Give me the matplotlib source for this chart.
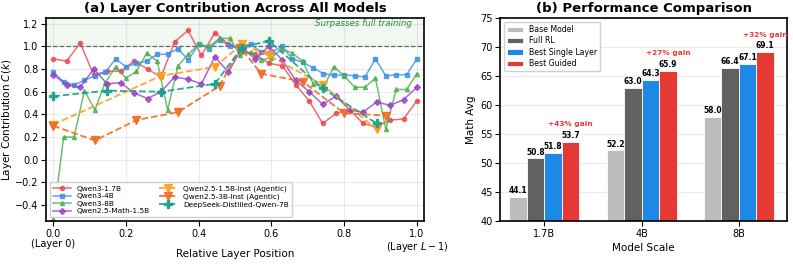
import numpy as np
import matplotlib.pyplot as plt

# ---- panel (a): layer contribution per model ----
qwen3_17b = [0.89, 0.87, 1.03, 0.75, 0.78, 0.78, 0.87, 0.80, 0.73, 1.04, 1.14, 0.92, 1.12, 1.02,
             0.96, 0.93, 0.85, 0.83, 0.66, 0.52, 0.32, 0.41, 0.44, 0.32, 0.29, 0.35, 0.36, 0.52]
qwen3_4b = [0.77, 0.69, 0.66, 0.70, 0.74, 0.77, 0.89, 0.82, 0.85, 0.87, 0.93, 0.93, 0.98, 0.88,
            1.02, 0.98, 1.06, 1.00, 1.00, 1.02, 0.95, 0.95, 1.00, 0.89, 0.86, 0.81, 0.76, 0.745,
            0.75, 0.74, 0.73, 0.89, 0.74, 0.75, 0.75, 0.89]
qwen3_8b = [-0.52, 0.20, 0.20, 0.61, 0.44, 0.68, 0.82, 0.72, 0.78, 0.94, 0.87, 0.44, 0.83, 0.93,
            1.02, 1.00, 1.07, 1.07, 0.92, 0.95, 0.88, 0.90, 0.98, 0.94, 0.87, 0.67, 0.64, 0.82,
            0.74, 0.64, 0.64, 0.72, 0.27, 0.62, 0.62, 0.76]
math_15b = [0.75, 0.66, 0.64, 0.80, 0.67, 0.68, 0.59, 0.54, 0.60, 0.73, 0.71, 0.67, 0.91, 0.77,
            0.99, 0.89, 1.00, 0.88, 0.70, 0.60, 0.49, 0.56, 0.44, 0.42, 0.51, 0.48, 0.53, 0.64]
ag15_layers = [0, 8, 12, 14, 16, 20, 24]
ag15_vals = [0.31, 0.74, 0.82, 1.02, 0.92, 0.66, 0.27]
ag3_layers = [0, 4, 8, 12, 16, 18, 20, 24, 28, 32]
ag3_vals = [0.30, 0.17, 0.35, 0.42, 0.65, 0.99, 0.76, 0.69, 0.41, 0.39]
ds7_layers = [0, 4, 8, 12, 14, 16, 20, 24]
ds7_vals = [0.56, 0.61, 0.60, 0.67, 0.99, 1.05, 0.63, 0.32]

# ---- panel (b): performance ----
scales = ['1.7B', '4B', '8B']
base_model = [44.1, 52.2, 58.0]
full_rl = [50.8, 63.0, 66.4]
best_single = [51.8, 64.3, 67.1]
best_guided = [53.7, 65.9, 69.1]
gains = ['+43% gain', '+27% gain', '+32% gain']

fig = plt.figure(figsize=(7.93, 2.65), dpi=100)
ax1 = fig.add_axes([0.058, 0.166, 0.477, 0.766])
ax2 = fig.add_axes([0.631, 0.166, 0.361, 0.766])


def rel(vals, n_layers, layers=None):
    if layers is None:
        layers = np.arange(len(vals))
    return np.array(layers) / (n_layers - 1)


ax1.axhspan(1.0, 1.3, color='#4caf50', alpha=0.08, lw=0)
ax1.axhline(1.0, color='#444444', ls='--', lw=0.9, alpha=0.8)

ax1.plot(rel(qwen3_17b, 28), qwen3_17b, '-o', color='#e84a4f', ms=3, lw=1.1, alpha=0.8, label='Qwen3-1.7B')
ax1.plot(rel(qwen3_4b, 36), qwen3_4b, '-s', color='#3b8fe5', ms=3, lw=1.1, alpha=0.8, label='Qwen3-4B')
ax1.plot(rel(qwen3_8b, 36), qwen3_8b, '-^', color='#4caf50', ms=3, lw=1.1, alpha=0.8, label='Qwen3-8B')
ax1.plot(rel(math_15b, 28), math_15b, '-D', color='#9b3fc4', ms=3, lw=1.1, alpha=0.8, label='Qwen2.5-Math-1.5B')
ax1.plot(rel(ag15_vals, 28, ag15_layers), ag15_vals, '--v', color='#ff9f1a', ms=6, lw=1.3, alpha=0.9,
         label='Qwen2.5-1.5B-Inst (Agentic)')
ax1.plot(rel(ag3_vals, 36, ag3_layers), ag3_vals, '--v', color='#f26a21', ms=6, lw=1.3, alpha=0.9,
         label='Qwen2.5-3B-Inst (Agentic)')
ax1.plot(rel(ds7_vals, 28, ds7_layers), ds7_vals, '--P', color='#17a08a', ms=6, lw=1.3, alpha=0.9,
         label='DeepSeek-Distilled-Qwen-7B')

ax1.text(0.985, 1.2, 'Surpasses full training', color='#2e8b3a', fontsize=6.3, style='italic',
         ha='right', va='center')
ax1.set_xlim(-0.02, 1.02)
ax1.set_ylim(-0.54, 1.25)
ax1.set_xticks([0, 0.2, 0.4, 0.6, 0.8, 1.0])
ax1.set_xticklabels(['0.0\n(Layer 0)', '0.2', '0.4', '0.6', '0.8', '1.0\n(Layer $L-1$)'],
                    fontsize=7, linespacing=1.1)
ax1.set_yticks(np.arange(-0.4, 1.21, 0.2))
ax1.tick_params(labelsize=7, pad=2)
ax1.set_xlabel('Relative Layer Position', fontsize=7.5)
ax1.xaxis.set_label_coords(0.5, -0.14)
ax1.set_ylabel('Layer Contribution $C(k)$', fontsize=7.5)
ax1.yaxis.set_label_coords(-0.085, 0.5)
ax1.set_title('(a) Layer Contribution Across All Models', fontsize=9.5, fontweight='bold', pad=4)
ax1.grid(True, alpha=0.25)
ax1.legend(loc='lower left', ncol=2, fontsize=5.3, framealpha=0.9, handlelength=2.5,
           borderpad=0.4, labelspacing=0.2, columnspacing=1.2)
for s in ax1.spines.values():
    s.set_linewidth(1.2)

# ---- panel (b) ----
x = np.arange(len(scales))
w = 0.18
series = [(base_model, '#bdbdbd', 'Base Model'), (full_rl, '#616161', 'Full RL'),
          (best_single, '#1e88e5', 'Best Single Layer'), (best_guided, '#e53935', 'Best Guided')]
for i, (vals, col, lab) in enumerate(series):
    bars = ax2.bar(x + (i - 1.5) * w, vals, w, color=col, label=lab, edgecolor='white', linewidth=0.6)
    for b, v in zip(bars, vals):
        ax2.text(b.get_x() + b.get_width() / 2, v + 0.3, f'{v:.1f}', ha='center', va='bottom',
                 fontsize=5.5, fontweight='bold')
for xi, v, g in zip(x, best_guided, gains):
    ax2.text(xi + 1.5 * w, v + 3.0, g, ha='center', va='center', fontsize=5.3, color='#e53935',
             fontweight='bold')

ax2.set_xlim(-0.45, 2.49)
ax2.set_ylim(40, 75)
ax2.set_xticks(x)
ax2.set_xticklabels(scales)
ax2.tick_params(labelsize=7, pad=2)
ax2.set_xlabel('Model Scale', fontsize=7.5, labelpad=3)
ax2.set_ylabel('Math Avg', fontsize=7.5, labelpad=3)
ax2.set_title('(b) Performance Comparison', fontsize=9.5, fontweight='bold', pad=4)
ax2.grid(True, axis='y', alpha=0.25)
ax2.set_axisbelow(True)
ax2.legend(loc='upper left', fontsize=5.6, framealpha=0.9, borderpad=0.4, labelspacing=0.3)
for s in ax2.spines.values():
    s.set_linewidth(1.2)

fig.savefig('out.png', dpi=100)
